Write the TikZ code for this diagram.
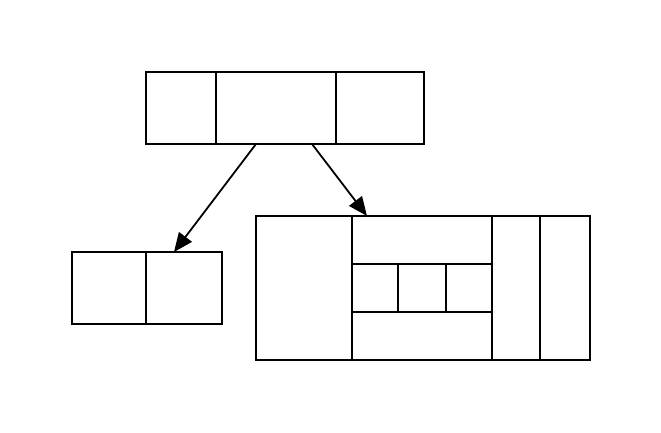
\documentclass[tikz,border=0pt]{standalone}
\usetikzlibrary{arrows.meta,calc}
\begin{document}
\begin{tikzpicture}[x=1pt,y=-1pt,line width=1.8pt,
  rec/.style={draw,rectangle,inner sep=0pt,line width=1.8pt},
  edge/.style={draw,line width=1.8pt,-{Triangle[length=19pt,width=16pt]},shorten >=0pt}]
\useasboundingbox (0,0) rectangle (661,433);
\node[rec,minimum width=278pt,minimum height=72pt] (top) at (285,108) {};
\node[rec,minimum width=150pt,minimum height=72pt] (left) at (147,288) {};
\node[rec,minimum width=334pt,minimum height=144pt] (right) at (423,288) {};
% top record fields
\draw (216,72) -- (216,144);
\draw (336,72) -- (336,144);
% left record fields
\draw (146,252) -- (146,324);
% right record fields
\draw (352,216) -- (352,360);
\draw (492,216) -- (492,360);
\draw (540,216) -- (540,360);
\draw (352,264) -- (492,264);
\draw (352,312) -- (492,312);
\draw (398,264) -- (398,312);
\draw (446,264) -- (446,312);
% ports
\coordinate (p1) at (256,144);
\coordinate (q1) at (174,252);
\coordinate (p2) at (312,144);
\coordinate (q2) at (367,216);
\draw[edge] (p1) -- (q1);
\draw[edge] (p2) -- (q2);
\end{tikzpicture}
\end{document}
